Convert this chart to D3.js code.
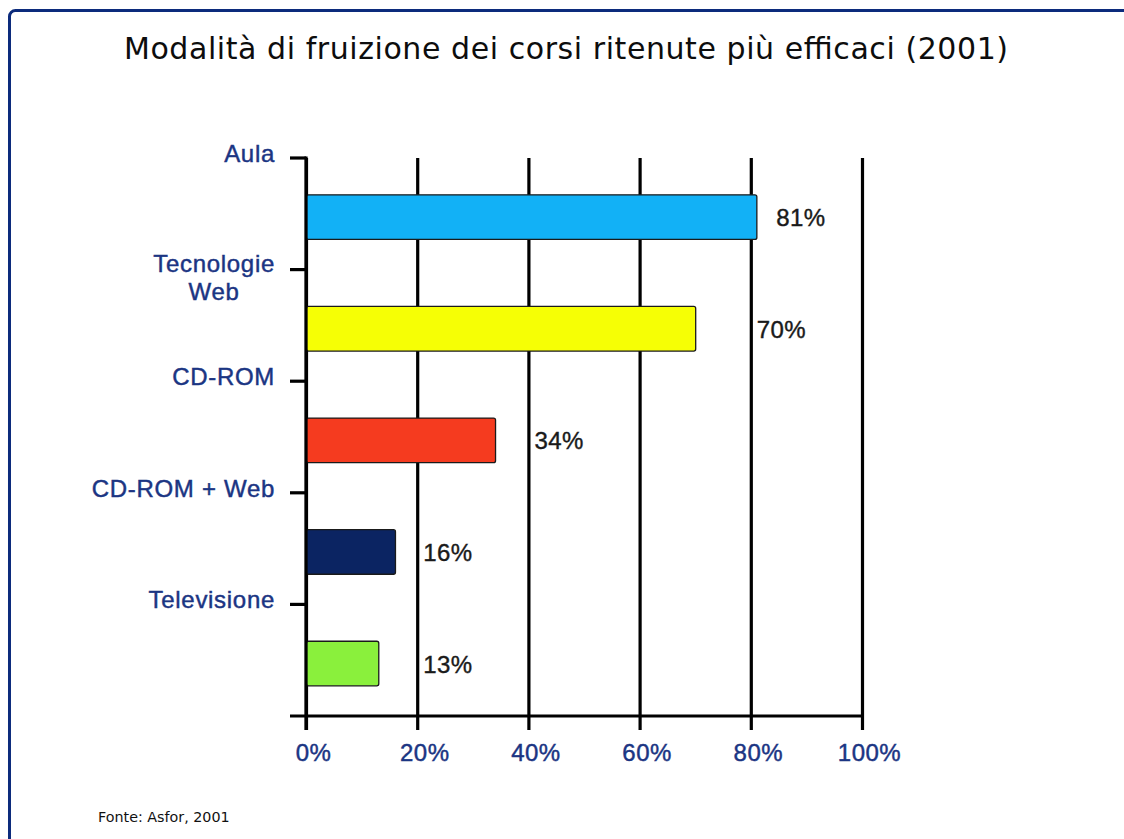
<!DOCTYPE html>
<html>
<head>
<meta charset="utf-8">
<script src="https://cdn.jsdelivr.net/npm/d3@7"></script>
<style>
  html, body { margin: 0; padding: 0; background: #ffffff; }
  svg { display: block; }
</style>
</head>
<body>
<div id="chart"></div>
<script>
// ---- data ----
const categories = ["Aula", "Tecnologie\nWeb", "CD-ROM", "CD-ROM + Web", "Televisione"];
const values = [81, 70, 34, 16, 13];
const xTicks = [0, 20, 40, 60, 80, 100];
const barColors = ["#12b1f6", "#f6ff05", "#f53b1f", "#0b2462", "#8af03c"];
const titleText = "Modalità di fruizione dei corsi ritenute più efficaci (2001)";
const sourceText = "Fonte: Asfor, 2001";

// ---- layout ----
const W = 1124, H = 839;
const plot = { left: 306, right: 862, top: 158, bottom: 716 };
const navy = "#1b3583";

const svg = d3.select("#chart").append("svg")
  .attr("width", W).attr("height", H);

svg.append("rect").attr("width", W).attr("height", H).attr("fill", "#fff");

// frame
svg.append("rect")
  .attr("x", 9.5).attr("y", 10.5)
  .attr("width", 1300).attr("height", 1000)
  .attr("rx", 6)
  .attr("fill", "none")
  .attr("stroke", "#0c2b7c")
  .attr("stroke-width", 3);

// title
const title = svg.append("text")
  .attr("x", 566).attr("y", 59)
  .attr("text-anchor", "middle")
  .attr("font-family", "DejaVu Sans, sans-serif")
  .attr("font-size", 30)
  .attr("fill", "#0d0d0d")
  .text(titleText);
const tl = title.node().getComputedTextLength();
if (Math.abs(tl - 884) > 4) {
  title.attr("textLength", 884).attr("lengthAdjust", "spacing");
}

// scales
const x = d3.scaleLinear().domain([0, 100]).range([plot.left, plot.right]);
const y = d3.scaleBand().domain(categories).range([plot.top, plot.bottom]).padding(0);
const bw = y.bandwidth();

// vertical grid + x axis labels via d3 axis
const xAxis = d3.axisBottom(x)
  .tickValues(xTicks)
  .tickFormat(d => d + "%")
  .tickSize(-(730 - plot.top))
  .tickPadding(14);

const gx = svg.append("g")
  .attr("transform", `translate(0,730)`)
  .call(xAxis);
gx.select(".domain").remove();
gx.selectAll(".tick line")
  .attr("stroke", "#000")
  .attr("stroke-width", 3.2);
gx.selectAll(".tick text")
  .attr("dx", 7)
  .attr("fill", navy)
  .attr("stroke", navy)
  .attr("stroke-width", 0.45)
  .attr("letter-spacing", 0.5)
  .attr("font-family", "Liberation Sans, Arial, sans-serif")
  .attr("font-size", 24);

// horizontal axis line
svg.append("line")
  .attr("x1", 290).attr("x2", x(100) + 1.6)
  .attr("y1", plot.bottom).attr("y2", plot.bottom)
  .attr("stroke", "#000").attr("stroke-width", 3.2);

// y ticks at band starts
svg.append("g").selectAll("line")
  .data(categories)
  .join("line")
  .attr("x1", 290).attr("x2", plot.left)
  .attr("y1", d => y(d)).attr("y2", d => y(d))
  .attr("stroke", "#000").attr("stroke-width", 3.2);

// category labels (at band start)
const labG = svg.append("g")
  .attr("font-family", "Liberation Sans, Arial, sans-serif")
  .attr("font-size", 24)
  .attr("letter-spacing", 0.7)
  .attr("fill", navy)
  .attr("stroke", navy)
  .attr("stroke-width", 0.45);
categories.forEach(c => {
  const lines = c.split("\n");
  const t = labG.append("text");
  if (lines.length === 1) {
    t.attr("x", 275).attr("y", y(c) + 4).attr("text-anchor", "end").text(c);
  } else {
    const tmp = labG.append("text").text(lines[0]);
    const w0 = tmp.node().getComputedTextLength();
    tmp.remove();
    const cx = 275 - w0 / 2;
    t.attr("text-anchor", "middle");
    lines.forEach((ln, i) => {
      t.append("tspan").attr("x", cx).attr("y", y(c) + 2 + i * 28).text(ln);
    });
  }
});

// bars
svg.append("g").selectAll("rect")
  .data(values)
  .join("rect")
  .attr("x", x(0) + 0.5)
  .attr("y", (d, i) => y(categories[i]) + bw * 0.33)
  .attr("width", d => x(d) - x(0))
  .attr("height", bw * 0.4)
  .attr("rx", 2)
  .attr("fill", (d, i) => barColors[i])
  .attr("stroke", "#1a1a1a")
  .attr("stroke-width", 1.3);

// y axis line on top
svg.append("line")
  .attr("x1", plot.left).attr("x2", plot.left)
  .attr("y1", plot.top - 1.6).attr("y2", 730)
  .attr("stroke", "#000").attr("stroke-width", 3.2);

// value labels: just right of the gridline following the bar end,
// or right of the bar if it passes the last inner gridline
const innerTicks = xTicks.filter(t => t > 0 && t < 100);
svg.append("g").selectAll("text")
  .data(values)
  .join("text")
  .attr("x", d => {
    const next = innerTicks.find(t => t >= d);
    return next !== undefined ? x(next) + 6 : x(d) + 20;
  })
  .attr("y", (d, i) => y(categories[i]) + bw * 0.53 + 9)
  .attr("font-family", "Liberation Sans, Arial, sans-serif")
  .attr("font-size", 24)
  .attr("letter-spacing", 0.4)
  .attr("fill", "#1a1a1a")
  .attr("stroke", "#1a1a1a")
  .attr("stroke-width", 0.4)
  .text(d => d + "%");

// source
svg.append("text")
  .attr("x", 98).attr("y", 822)
  .attr("font-family", "DejaVu Sans, sans-serif")
  .attr("font-size", 14.3)
  .attr("fill", "#111")
  .text(sourceText);
</script>
</body>
</html>
